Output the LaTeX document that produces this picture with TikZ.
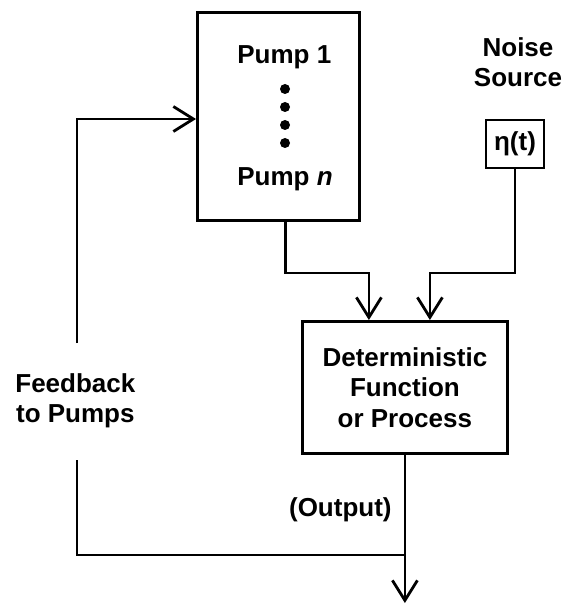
\documentclass[tikz,border=0pt]{standalone}
\usepackage{fontspec}
\setmainfont{Liberation Sans}
\usetikzlibrary{arrows.meta}
\begin{document}
\begin{tikzpicture}[x=1pt,y=-1pt,
  line width=2.8pt,
  every node/.style={font=\fontsize{26}{30.5}\selectfont\bfseries},
  blockbox/.style={draw, rectangle, inner sep=0pt, align=center},
  label/.style={inner sep=0pt, align=center},
  dotmark/.style={circle, fill, inner sep=0pt, minimum size=10pt},
  barb/.style={-{Straight Barb[length=20pt,width=25pt]}},
]
\useasboundingbox (0,0) rectangle (572,604);

% blocks
\node[blockbox, anchor=north west, minimum width=162pt, minimum height=208pt] (pump) at (196,11) {};
\node[label, anchor=base west] (p1) at (236,64) {Pump 1};
\node[dotmark] (d1) at (285,89) {};
\node[dotmark] (d2) at (285,107) {};
\node[dotmark] (d3) at (285,125) {};
\node[dotmark] (d4) at (285,143) {};
\node[label, anchor=base west] (pn) at (236,185) {Pump \textit{n}};

\node[label] (noiselbl) at (518,62) {Noise\\Source};
\node[blockbox, minimum width=58pt, minimum height=48pt] (eta) at (515,144) {η(t)};

\node[blockbox, anchor=north west, minimum width=205pt, minimum height=132pt] (det) at (301,320) {Deterministic\\Function\\or Process};

\node[label, anchor=west] (fblbl) at (14,401) {Feedback\\to Pumps};
\node[label, anchor=base east] (outlbl) at (393,516) {(Output)};

% helper coordinates
\coordinate (bus) at (0,273);
\coordinate (in1) at ([xshift=-36pt]det.north);
\coordinate (in2) at ([xshift=25pt]det.north);
\coordinate (pout) at ([xshift=7pt]pump.south);
\coordinate (junc) at (det.south |- 0,555);
\coordinate (outend) at (det.south |- 0,603);
\coordinate (fbb) at (77,555);
\coordinate (gaplo) at (77,460);
\coordinate (gaphi) at (77,343);
\coordinate (fbc) at (77,119);

% connectors
\draw[barb] (pout) -- (pout |- bus) -| (in1);
\draw[barb] (eta.south) -- (eta.south |- bus) -| (in2);
\draw[barb] (det.south) -- (outend);
\draw (junc) -- (fbb) -- (gaplo);
\draw[barb] (gaphi) -- (fbc) -- (fbc -| pump.west);
\end{tikzpicture}
\end{document}
